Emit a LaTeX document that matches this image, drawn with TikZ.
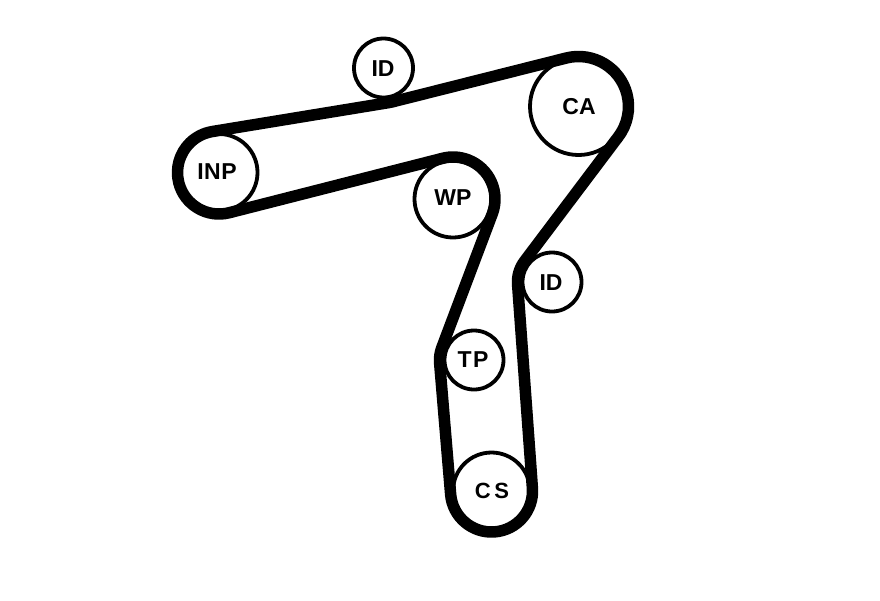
\documentclass[tikz,border=0pt]{standalone}
\usepackage{fontspec}
\setmainfont{Liberation Sans}
\makeatletter
\newcommand\defpulley[4]{%
  \expandafter\def\csname PX#1\endcsname{#2}%
  \expandafter\def\csname PY#1\endcsname{#3}%
  \expandafter\def\csname PR#1\endcsname{#4}}
\newcommand\pv[2]{\csname P#1#2\endcsname}
% n-angle of the belt run from pulley #1 to pulley #2; stored in \A<#1>
\newcommand\runangle[2]{%
  \pgfmathsetmacro\rdx{\pv{X}{#2}-\pv{X}{#1}}%
  \pgfmathsetmacro\rdy{-(\pv{Y}{#2})+\pv{Y}{#1}}%
  \pgfmathsetmacro\rang{atan2(\rdy,\rdx)+acos((\pv{R}{#1}-\pv{R}{#2})/veclen(\rdx,\rdy))}%
  \expandafter\let\csname A#1\endcsname\rang}
\def\beltpath{}
% #1 connector, #2 pulley, #3 previous pulley
\newcommand\beltwrap[3]{%
  \pgfmathsetmacro\ain{\csname A#3\endcsname}%
  \pgfmathsetmacro\aout{\csname A#2\endcsname}%
  \pgfmathsetmacro\rr{\pv{R}{#2}}%
  \pgfmathsetmacro\px{\pv{X}{#2}+\rr*cos(\ain)}%
  \pgfmathsetmacro\py{-(\pv{Y}{#2})+\rr*sin(\ain)}%
  \pgfmathsetmacro\rabs{abs(\rr)}%
  \pgfmathsetmacro\astart{\rr>0 ? \ain : \ain+180}%
  \pgfmathsetmacro\adelta{\rr>0 ? -Mod(\ain-\aout,360) : Mod(\aout-\ain,360)}%
  \edef\beltpath{\beltpath #1 (\px pt,\py pt) arc[start angle=\astart, delta angle=\adelta, radius=\rabs pt]}}
\makeatother
\defpulley{inp}{219}{172.5}{41.5}
\defpulley{ida}{383.5}{68}{-35}
\defpulley{ca}{578.5}{106.5}{50}
\defpulley{idb}{552}{282}{-34.5}
\defpulley{cs}{491.5}{491}{41}
\defpulley{tp}{474}{360}{34.5}
\defpulley{wp}{453}{199}{-42}
\runangle{inp}{ida}
\runangle{ida}{ca}
\runangle{ca}{idb}
\runangle{idb}{cs}
\runangle{cs}{tp}
\runangle{tp}{wp}
\runangle{wp}{inp}
\beltwrap{}{inp}{wp}
\beltwrap{--}{ida}{inp}
\beltwrap{--}{ca}{ida}
\beltwrap{--}{idb}{ca}
\beltwrap{--}{cs}{idb}
\beltwrap{--}{tp}{cs}
\beltwrap{--}{wp}{tp}
\tikzset{
  pulley/.style={circle,draw=black,fill=white,line width=3.8pt,inner sep=0pt},
  lbl/.style={font=\fontsize{23}{23}\selectfont\bfseries,text=black,inner sep=0pt},
  belt/.style={draw=black,line width=11.5pt,line join=round}
}
\begin{document}
\begin{tikzpicture}
\useasboundingbox (0pt,0pt) rectangle (880pt,-600pt);
\fill[white] (0pt,0pt) rectangle (880pt,-600pt);
\node[pulley,minimum size=77pt] (INP) at (219pt,-172.5pt) {};
\node[pulley,minimum size=59pt] (IDa) at (383.5pt,-68pt) {};
\node[pulley,minimum size=97pt] (CA) at (578.5pt,-106.5pt) {};
\node[pulley,minimum size=77pt] (WP) at (453pt,-199pt) {};
\node[pulley,minimum size=59pt] (IDb) at (552pt,-282pt) {};
\node[pulley,minimum size=59pt] (TP) at (474pt,-360pt) {};
\node[pulley,minimum size=77pt] (CS) at (491.5pt,-491pt) {};
\draw[belt] \beltpath -- cycle;
\node[lbl] (tINP) at (217pt,-172pt) {I\kern.5pt N\kern.5pt P};
\node[lbl] (tIDa) at (383pt,-69pt) {ID};
\node[lbl] (tCA) at (579pt,-107pt) {CA};
\node[lbl] (tWP) at (453pt,-198pt) {WP};
\node[lbl] (tIDb) at (551pt,-283pt) {ID};
\node[lbl] (tTP) at (473pt,-360pt) {T\kern1.5pt P};
\node[lbl,font=\fontsize{22}{22}\selectfont\bfseries] (tCS) at (492pt,-491pt) {C\kern3.5pt S};
\end{tikzpicture}
\end{document}
